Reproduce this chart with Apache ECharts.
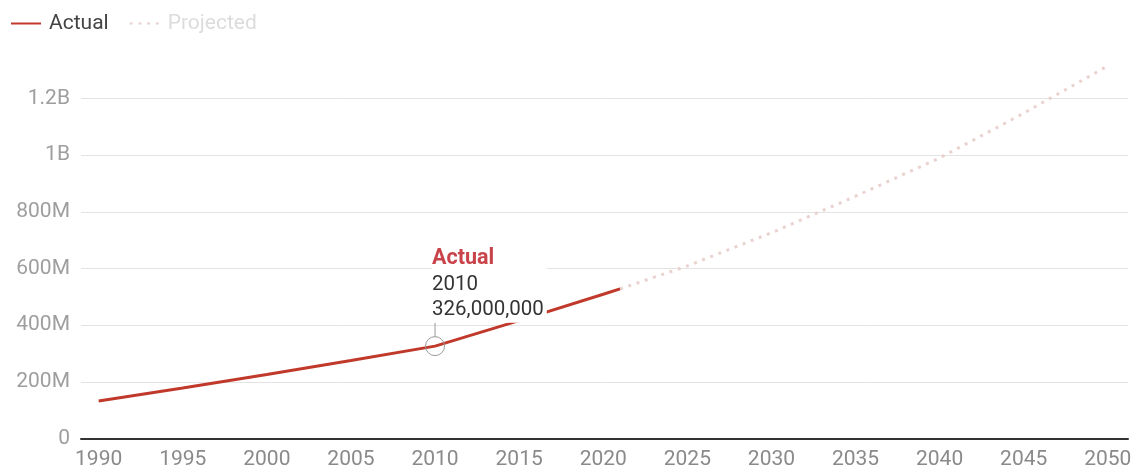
<!DOCTYPE html>
<html>
<head>
<meta charset="utf-8">
<script src="https://cdn.jsdelivr.net/npm/echarts@6/dist/echarts.min.js"></script>
<style>
html,body{margin:0;padding:0;background:#fff;}
#chart{width:1140px;height:476px;}
</style>
</head>
<body>
<div id="chart"></div>
<script>
// ---- data ----
const actualYears = [1990, 1995, 2000, 2005, 2010, 2015, 2020, 2021];
const actualValues = [132e6, 178e6, 226e6, 275e6, 326e6, 416e6, 509e6, 528e6];
const projectedYears = [2021, 2025, 2030, 2035, 2040, 2045, 2050];
const projectedValues = [528e6, 609e6, 726e6, 855e6, 990e6, 1148e6, 1315e6];
const xTickYears = [1990, 1995, 2000, 2005, 2010, 2015, 2020, 2025, 2030, 2035, 2040, 2045, 2050];
const yTickValues = [0, 200e6, 400e6, 600e6, 800e6, 1000e6, 1200e6];
const yTickLabels = ['0', '200M', '400M', '600M', '800M', '1B', '1.2B'];
const highlightYear = 2010;
const highlightValue = 326e6;
const highlightText = '326,000,000';

const actualData = actualYears.map((y, i) => [y, actualValues[i]]);
const projectedData = projectedYears.map((y, i) => [y, projectedValues[i]]);

const chart = echarts.init(document.getElementById('chart'), null, {renderer: 'canvas'});
const FONT = 'Roboto, "Noto Sans", sans-serif';

chart.setOption({
  animation: false,
  backgroundColor: '#ffffff',
  textStyle: {fontFamily: FONT},
  legend: {
    left: 10,
    top: 13,
    padding: 0,
    itemWidth: 30,
    itemHeight: 14,
    itemGap: 20,
    itemStyle: {opacity: 0},
    textStyle: {fontSize: 21, fontFamily: FONT, color: '#444', padding: [0, 0, 0, 3]},
    data: [
      {name: 'Actual', textStyle: {color: '#444'}},
      {name: 'Projected', textStyle: {color: '#dcdcdc'}}
    ]
  },
  grid: {
    left: 81,
    right: 12,
    top: 41.8,
    bottom: 37.5,
    outerBoundsMode: 'none',
    containLabel: false
  },
  xAxis: {
    type: 'value',
    min: 1988.95,
    max: 2051.2,
    axisLine: {show: true, lineStyle: {color: '#333', width: 2}},
    axisTick: {show: false},
    splitLine: {show: false},
    axisLabel: {
      customValues: xTickYears,
      color: '#8a8a8a',
      fontSize: 21,
      fontFamily: FONT,
      margin: 11,
      formatter: v => String(v)
    }
  },
  yAxis: {
    type: 'value',
    min: 0,
    max: 1400e6,
    interval: 200e6,
    axisLine: {show: false},
    axisTick: {show: false},
    splitLine: {show: true, showMaxLine: false, lineStyle: {color: '#e3e3e3', width: 1}},
    axisLabel: {
      showMaxLabel: false,
      color: '#9e9e9e',
      fontSize: 21,
      fontFamily: FONT,
      margin: 11,
      formatter: v => {
        const i = yTickValues.indexOf(v);
        return i >= 0 ? yTickLabels[i] : '';
      }
    }
  },
  series: [
    {
      name: 'Projected',
      type: 'line',
      data: projectedData,
      symbol: 'none',
      showSymbol: false,
      z: 2,
      color: '#e9d2cf',
      lineStyle: {color: '#e9d2cf', width: 3, type: [3, 5.7]}
    },
    {
      name: 'Actual',
      type: 'line',
      data: actualData,
      symbol: 'none',
      showSymbol: false,
      z: 3,
      color: '#c0392b',
      lineStyle: {color: '#c0392b', width: 3},
      markPoint: {
        silent: true,
        data: [
          {
            coord: [highlightYear, highlightValue],
            symbol: 'circle',
            symbolSize: 19,
            itemStyle: {color: 'rgba(255,255,255,0)', borderColor: '#9a9a9a', borderWidth: 1},
            label: {show: false}
          },
          {
            coord: [highlightYear, highlightValue],
            symbol: 'rect',
            symbolSize: [1, 14],
            symbolOffset: [0, -16.5],
            itemStyle: {color: '#9a9a9a', borderWidth: 0},
            label: {
              show: true,
              position: 'top',
              distance: 0,
              align: 'left',
              offset: [-3, 0],
              backgroundColor: '#ffffff',
              padding: [0, 3, 0, 0],
              formatter: () => '{t|Actual}\n{v|' + highlightYear + '}\n{v|' + highlightText + '}',
              rich: {
                t: {fontSize: 21.5, fontWeight: 'bold', color: '#c9444a', fontFamily: FONT, lineHeight: 25.5},
                v: {fontSize: 20.5, color: '#333', fontFamily: FONT, lineHeight: 25.5}
              }
            }
          }
        ]
      }
    }
  ]
});
</script>
</body>
</html>
